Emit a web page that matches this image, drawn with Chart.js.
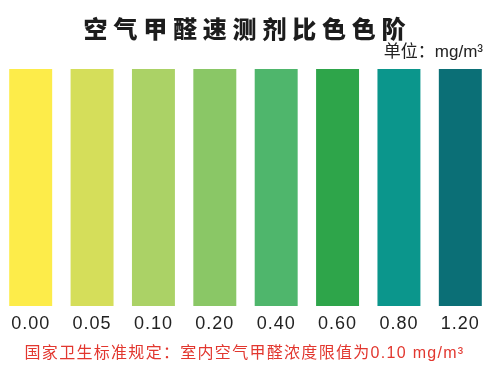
<!DOCTYPE html>
<html>
<head>
<meta charset="utf-8">
<script src="https://cdn.jsdelivr.net/npm/chart.js@4"></script>
<style>
  html, body { margin: 0; padding: 0; background: #ffffff; }
  #wrap { width: 500px; height: 372px; position: relative; }
</style>
</head>
<body>
<div id="wrap"><canvas id="c" width="500" height="372"></canvas></div>
<script>
// ---- data ----
const levels = ['0.00', '0.05', '0.10', '0.20', '0.40', '0.60', '0.80', '1.20'];
const barHeights = [1, 1, 1, 1, 1, 1, 1, 1];
const swatchColors = ['#fdec4a', '#d5de5a', '#abd266', '#8ac766', '#4fb66c', '#2ea54a', '#0b968c', '#0b6f76'];
const titleText = '空气甲醛速测剂比色色阶';
const unitText = '单位：mg/m³';
const noteText = '国家卫生标准规定：室内空气甲醛浓度限值为0.10 mg/m³';

const textPlugin = {
  id: 'textPlugin',
  beforeDraw(chart) {
    chart.ctx.letterSpacing = '1px';
  },
  afterDraw(chart) {
    const ctx = chart.ctx;
    ctx.save();
    ctx.textBaseline = 'middle';
    // title
    ctx.letterSpacing = '5.8px';
    ctx.font = '900 24px "Noto Sans CJK SC"';
    ctx.fillStyle = '#1c1c1c';
    ctx.textAlign = 'center';
    ctx.fillText(titleText, 247.5, 29);
    // unit
    ctx.letterSpacing = '0px';
    ctx.font = '17px "Liberation Sans", "Noto Sans CJK SC"';
    ctx.fillStyle = '#222222';
    ctx.textAlign = 'right';
    ctx.fillText(unitText, 483, 52);
    // note
    ctx.letterSpacing = '1.3px';
    ctx.font = '16px "Liberation Sans", "Noto Sans CJK SC"';
    ctx.fillStyle = '#e2372f';
    ctx.textAlign = 'center';
    ctx.fillText(noteText, 244.5, 354);
    ctx.restore();
  }
};

new Chart(document.getElementById('c'), {
  type: 'bar',
  data: {
    labels: levels,
    datasets: [{
      data: barHeights,
      backgroundColor: swatchColors,
      borderWidth: 0,
      barPercentage: 0.70,
      categoryPercentage: 1.0
    }]
  },
  options: {
    responsive: false,
    animation: false,
    devicePixelRatio: 1,
    layout: { padding: { top: 69, left: 0, right: 9, bottom: 30.4 } },
    plugins: {
      legend: { display: false },
      tooltip: { enabled: false },
      title: { display: false }
    },
    scales: {
      x: {
        grid: { display: false, drawTicks: false },
        border: { display: false },
        ticks: {
          color: '#222222',
          padding: 7,
          font: { family: '"Liberation Sans", Arial, sans-serif', size: 18 }
        }
      },
      y: {
        display: false,
        min: 0,
        max: 1
      }
    }
  },
  plugins: [textPlugin]
});
</script>
</body>
</html>
